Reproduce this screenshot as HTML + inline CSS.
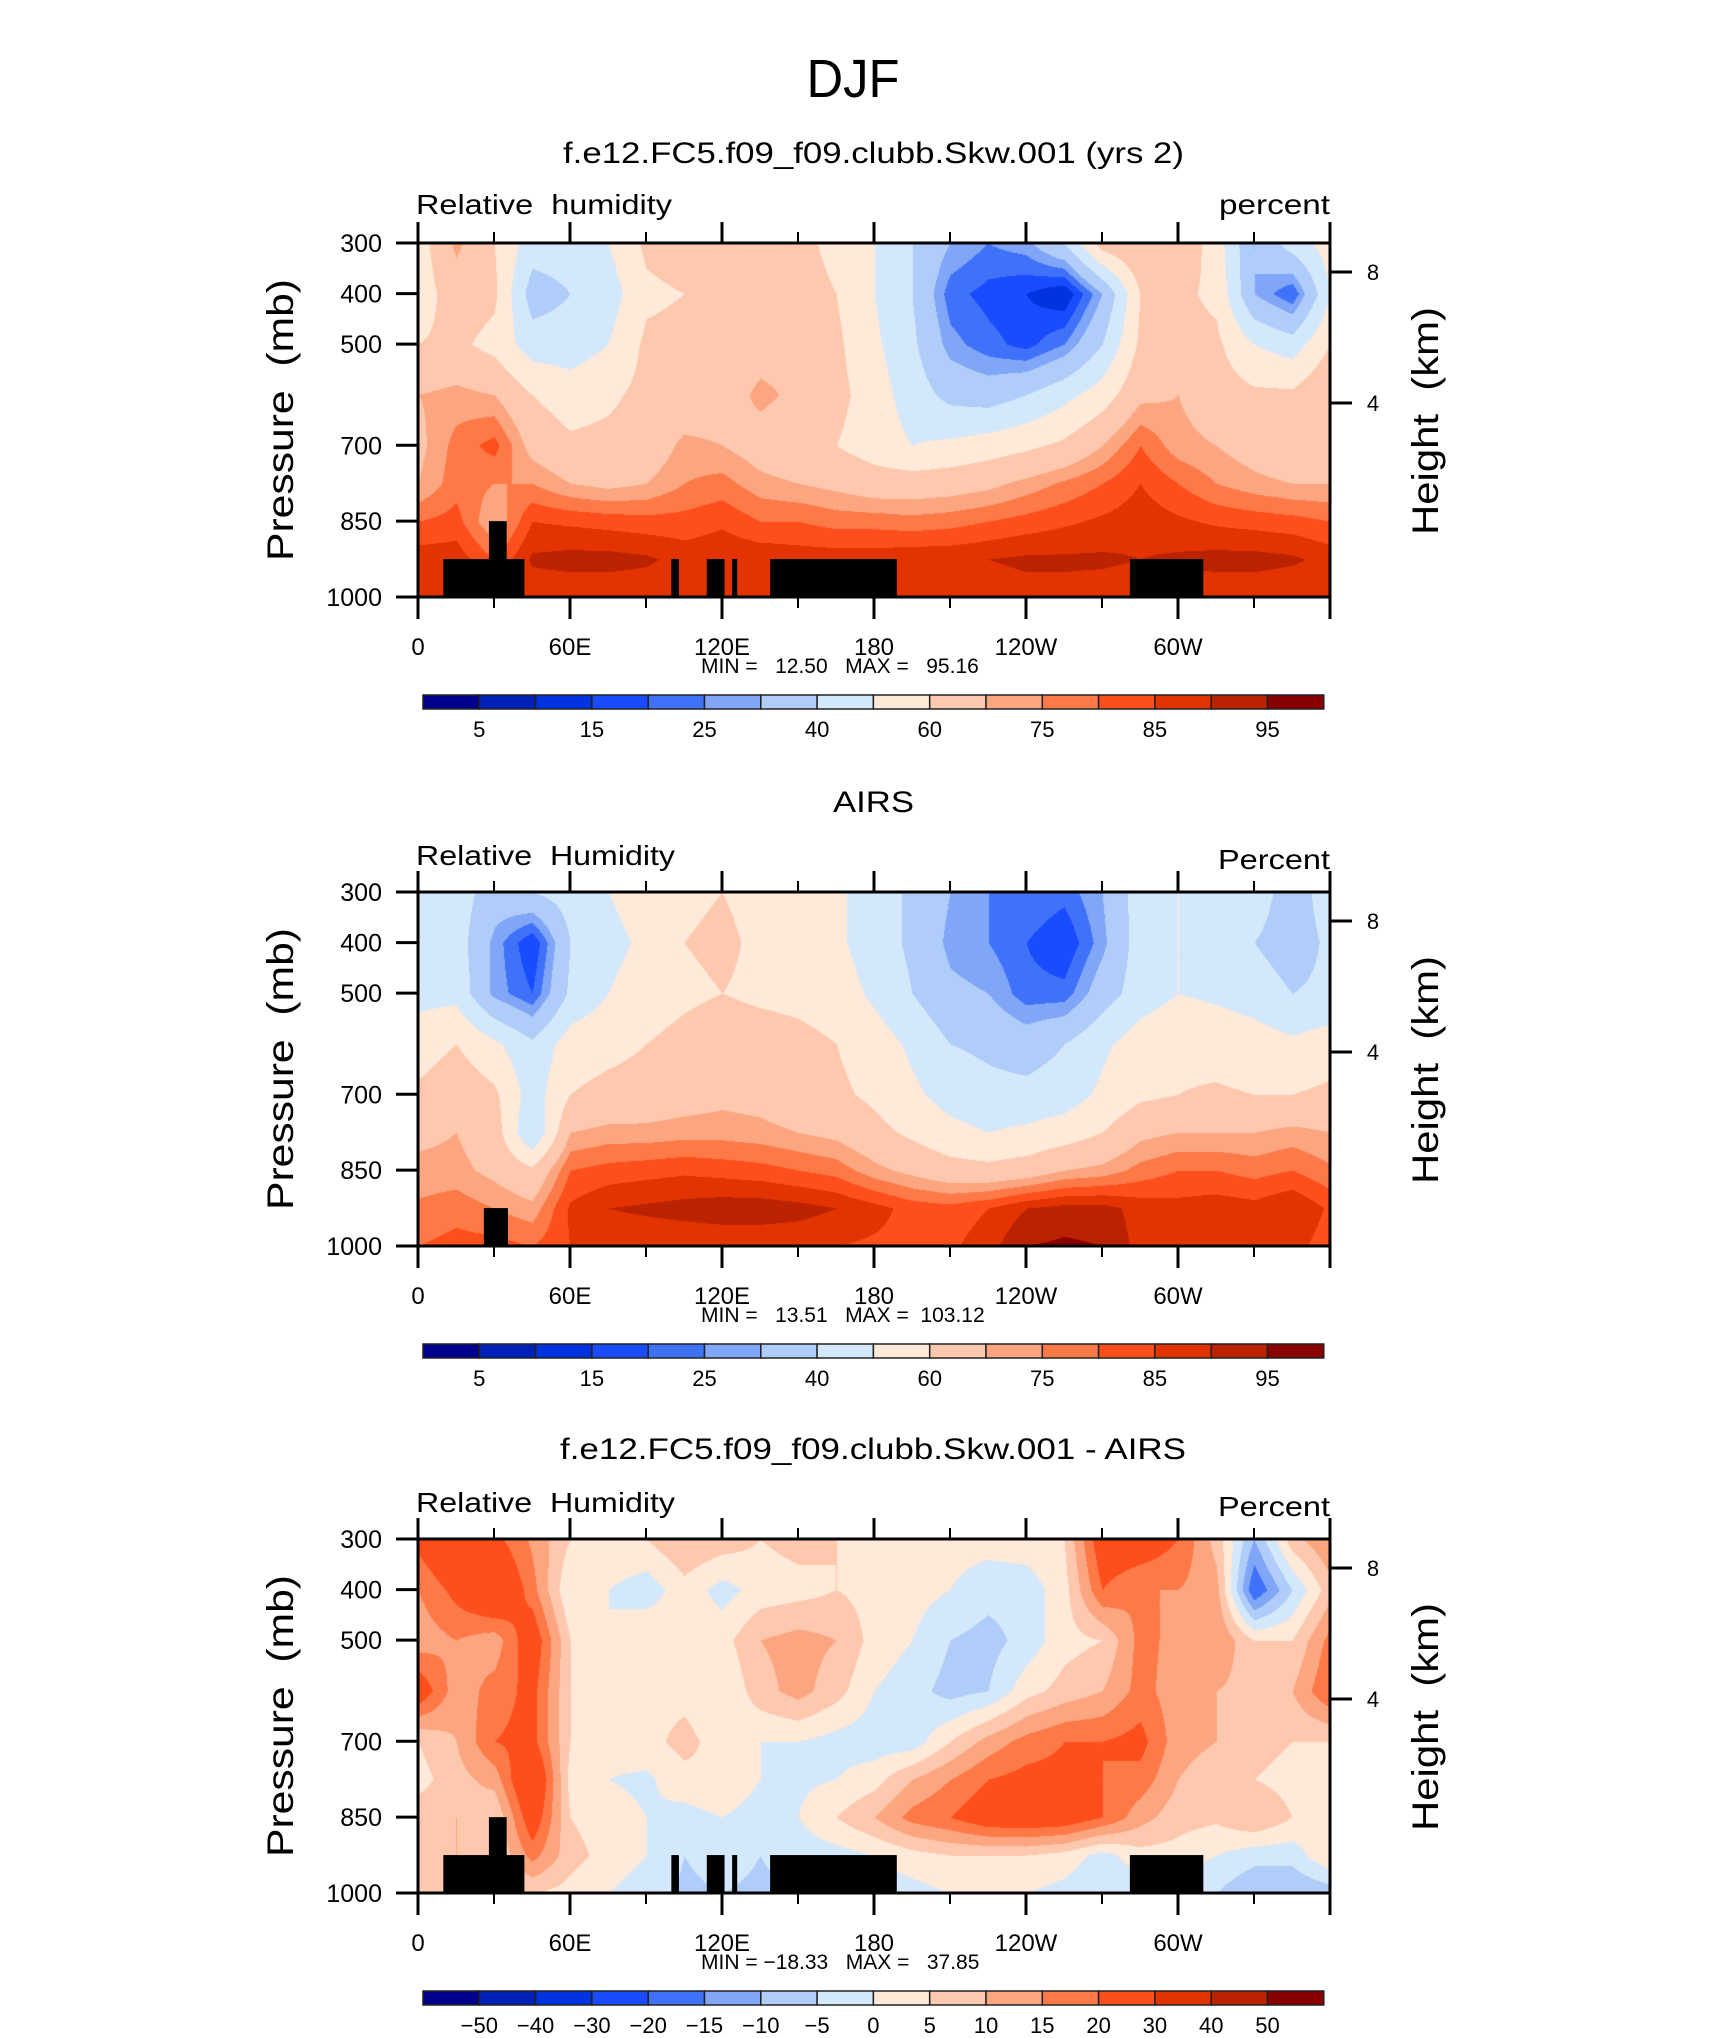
<!DOCTYPE html>
<html><head><meta charset="utf-8">
<style>
html,body{margin:0;padding:0;background:#fff;}
#root{position:relative;width:1710px;height:2038px;overflow:hidden;}
canvas{position:absolute;}
svg{position:absolute;left:0;top:0;}
text{font-family:"Liberation Sans",sans-serif;fill:#000;}
</style></head>
<body>
<div id="root">
<canvas id="c0" width="912" height="354" style="left:418px;top:243px"></canvas>
<canvas id="c1" width="912" height="354" style="left:418px;top:892px"></canvas>
<canvas id="c2" width="912" height="354" style="left:418px;top:1539px"></canvas>
<svg id="svg" width="1710" height="2038"></svg>
</div>
<script>
// ---- data ----
const lons = [0,15,30,45,60,75,90,105,120,135,150,165,180,195,210,225,240,255,270,285,300,315,330,345,360];
const pressures = [300,400,500,600,700,775,850,925,1000];
const modelRH = [
 [55,72,60,45,45,50,62,65,68,62,62,58,50,40,30,25,28,40,65,70,68,55,30,45,55],
 [55,65,62,35,40,45,58,60,62,63,63,60,50,40,22,18,15,10,30,60,62,58,30,20,50],
 [60,62,57,45,45,50,62,63,63,66,66,62,52,42,27,22,18,25,40,62,63,62,50,45,60],
 [70,72,70,60,55,58,63,63,65,72,68,63,55,45,37,35,40,47,55,68,70,65,62,62,70],
 [68,77,82,67,62,63,64,72,70,66,63,60,55,50,52,55,58,62,70,80,72,70,66,62,63],
 [70,78,75,75,70,68,70,75,77,72,70,68,65,65,66,68,72,76,80,85,80,75,72,70,70],
 [80,82,70,85,84,83,82,82,84,80,80,78,78,77,78,80,82,84,86,88,86,84,83,82,80],
 [88,88,80,91,92,92,91,88,89,89,88,88,88,89,89,90,91,91,91,90,91,92,92,91,88],
 [85,85,85,86,86,86,86,85,85,85,85,85,85,86,86,87,88,88,87,86,86,86,86,85,85]
];
const airsRH = [
 [45,45,35,40,45,50,55,58,60,57,55,52,45,38,30,25,25,22,30,45,50,45,45,35,45],
 [45,45,28,15,40,47,52,60,62,58,58,52,45,38,28,25,20,15,28,45,50,45,40,35,42],
 [47,47,28,20,42,50,55,58,60,58,57,55,48,40,32,30,22,22,35,45,50,48,45,40,42],
 [55,60,52,42,55,57,60,63,66,65,63,60,55,48,40,38,35,40,48,55,58,57,55,52,55],
 [62,67,62,45,60,63,64,66,68,67,64,62,58,52,46,43,43,45,52,58,60,61,60,60,62],
 [68,70,65,40,70,72,72,73,73,72,70,68,63,58,53,50,52,55,60,68,70,70,70,72,70],
 [72,72,68,62,80,82,83,84,83,82,80,78,72,68,64,63,65,70,72,77,80,80,78,80,76],
 [76,78,75,72,86,90,91,92,93,93,92,90,87,83,82,85,90,92,92,88,87,88,87,90,84],
 [80,82,82,80,85,86,86,86,86,86,86,85,84,83,84,88,95,96,95,88,86,86,86,87,82]
];
const diffRH = [
 [22,30,22,14,5,5,5,10,8,5,7,5,5,3,2,2,3,5,25,25,20,8,-10,8,15],
 [15,22,30,17,0,0,-3,3,-2,2,3,5,3,2,0,-3,-3,3,20,15,15,12,-20,-5,8],
 [12,15,12,25,5,0,5,3,3,10,12,10,3,0,-5,-7,-3,3,5,17,13,15,5,5,17],
 [25,12,17,22,5,3,3,3,0,8,12,7,0,-3,-7,-5,3,7,10,17,12,10,8,10,20],
 [5,10,20,22,5,2,3,7,2,0,0,-2,-3,-3,5,12,17,20,20,22,12,10,7,5,5],
 [3,8,12,30,3,0,-1,3,5,0,-1,0,3,10,15,20,22,22,20,18,10,7,5,3,3],
 [8,10,5,25,5,2,0,-2,0,-3,0,5,10,17,20,25,26,25,20,12,7,6,10,5,3],
 [10,10,5,17,7,3,0,-5,-3,-5,-3,-2,0,3,5,5,5,3,-2,3,3,0,-3,-3,5],
 [5,5,3,5,3,0,-3,-6,-5,-6,-5,-4,-3,-2,0,0,0,-2,-5,-3,-3,-5,-10,-10,-8]
];
const rhLevels = [5,10,15,20,25,30,40,50,60,70,75,80,85,90,95];
const rhLabels = ["5","15","25","40","60","75","85","95"];
const diffLevels = [-50,-40,-30,-20,-15,-10,-5,0,5,10,15,20,30,40,50];
const diffLabels = ["-50","-40","-30","-20","-15","-10","-5","0","5","10","15","20","30","40","50"];
const colors = ["#00008c","#0020b8","#0033e0","#1a4cff","#3f72f8","#80a6f8","#b0ccf8","#d4e8fb","#ffe9d8","#fdc8ad","#fca681","#fd7a48","#fe4e1b","#e33300","#bb2200","#8a0000"];
const landModel = [[10,42,925],[28,35,850],[100,103,925],[114,121,925],[124,126,925],[139,189,925],[281,310,925]];
const landAirs = [[26,35.5,925]];
const xTickVals = [0,60,120,180,240,300];
const xTickLabels = ["0","60E","120E","180","120W","60W"];
const yTickVals = [300,400,500,700,850,1000];
const hTickY = [[8,29],[4,160]];
const panels = [
 {top:243, data:modelRH, levels:rhLevels, labels:rhLabels, labelEvery:2, land:landModel,
  title:"f.e12.FC5.f09_f09.clubb.Skw.001 (yrs 2)", tx:563, tw:621, left:"Relative  humidity", lw:256, right:"percent", rw:111, ry:-39, minmax:"MIN =   12.50   MAX =   95.16"},
 {top:892, data:airsRH, levels:rhLevels, labels:rhLabels, labelEvery:2, land:landAirs,
  title:"AIRS", tx:833, tw:81, left:"Relative  Humidity", lw:259, right:"Percent", rw:112, ry:-33, minmax:"MIN =   13.51   MAX =  103.12"},
 {top:1539, data:diffRH, levels:diffLevels, labels:diffLabels, labelEvery:1, land:landModel,
  title:"f.e12.FC5.f09_f09.clubb.Skw.001 - AIRS", tx:560, tw:626, left:"Relative  Humidity", lw:259, right:"Percent", rw:112, ry:-33, minmax:"MIN = \u221218.33   MAX =   37.85"}
];
const PX=418, PW=912, PH=354;
const xScale = lon => PX + lon/360*PW;
const yScale = (top,p) => top + (p-300)/700*PH;
const NS="http://www.w3.org/2000/svg";
const svg=document.getElementById('svg');
function mk(tag,attrs,parent){const e=document.createElementNS(NS,tag);for(const k in attrs)e.setAttribute(k,attrs[k]);(parent||svg).appendChild(e);return e;}
function txt(s,attrs){const e=mk('text',attrs);e.textContent=s;return e;}

function interp(data,lon,p){
  let i=Math.min(Math.floor(lon/15),lons.length-2); let fx=(lon-lons[i])/15;
  let j=0; while(j<pressures.length-2 && p>pressures[j+1]) j++;
  let fy=(p-pressures[j])/(pressures[j+1]-pressures[j]);
  const a=data[j][i],b=data[j][i+1],c=data[j+1][i],d=data[j+1][i+1];
  return (a*(1-fx)+b*fx)*(1-fy)+(c*(1-fx)+d*fx)*fy;
}
function hex(c){return [parseInt(c.substr(1,2),16),parseInt(c.substr(3,2),16),parseInt(c.substr(5,2),16)];}
const rgb=colors.map(hex);

panels.forEach((P,k)=>{
  const cv=document.getElementById('c'+k), ctx=cv.getContext('2d');
  const img=ctx.createImageData(PW,PH);
  for(let y=0;y<PH;y++){const p=300+y/PH*700;
    for(let x=0;x<PW;x++){const lon=x/PW*360;const v=interp(P.data,lon,p);
      let ci=0; while(ci<P.levels.length && v>=P.levels[ci]) ci++;
      const c=rgb[ci]; const o=(y*PW+x)*4; img.data[o]=c[0];img.data[o+1]=c[1];img.data[o+2]=c[2];img.data[o+3]=255;}}
  ctx.putImageData(img,0,0);
  const T=P.top;
  P.land.forEach(b=>{
    const r=mk('rect',{x:xScale(b[0]),y:yScale(T,b[2]),width:xScale(b[1])-xScale(b[0]),height:yScale(T,1000)-yScale(T,b[2]),fill:'#000'});
    
    
  });
  const fr=mk('rect',{x:PX,y:T,width:PW,height:PH,fill:'none',stroke:'#000','stroke-width':3});
  
  
  for(let lon=0;lon<=360;lon+=30){const x=xScale(lon);const major=lon%60===0;
    mk('line',{x1:x,x2:x,y1:T+PH,y2:T+PH+(major?22:11),stroke:'#000','stroke-width':major?3:2});
    mk('line',{x1:x,x2:x,y1:T,y2:T-(major?21:11),stroke:'#000','stroke-width':major?3:2});}
  xTickVals.forEach((v,i)=>{const t=txt(xTickLabels[i],{x:xScale(v),y:T+PH+58,'font-size':24,'text-anchor':'middle'});
    
    });
  yTickVals.forEach(v=>{const y=yScale(T,v);
    mk('line',{x1:PX-22,x2:PX,y1:y,y2:y,stroke:'#000','stroke-width':3});
    const t=txt(String(v),{x:382,y:y+9,'font-size':25,'text-anchor':'end'});
    
    });
  hTickY.forEach(h=>{const y=T+h[1];
    mk('line',{x1:PX+PW,x2:PX+PW+22,y1:y,y2:y,stroke:'#000','stroke-width':3});
    const t=txt(String(h[0]),{x:1373,y:y+8,'font-size':22,'text-anchor':'middle'});
    
    });
  let t=txt(P.title,{x:P.tx,y:T-80,'font-size':30,textLength:P.tw,lengthAdjust:'spacingAndGlyphs'});
  
  
  t=txt(P.left,{x:416,y:T-(k==0?29:27),'font-size':28,textLength:P.lw,lengthAdjust:'spacingAndGlyphs'});
  t.style.whiteSpace='pre';
  
  
  t=txt(P.right,{x:1330,y:T+P.ry+10,'font-size':28,'text-anchor':'end',textLength:P.rw,lengthAdjust:'spacingAndGlyphs'});
  
  
  t=txt('Pressure  (mb)',{x:0,y:0,'font-size':37,'text-anchor':'middle',textLength:282,lengthAdjust:'spacingAndGlyphs',transform:`translate(293,${T+177}) rotate(-90)`});
  t.style.whiteSpace='pre';
  
  
  t=txt('Height  (km)',{x:0,y:0,'font-size':37,'text-anchor':'middle',textLength:228,lengthAdjust:'spacingAndGlyphs',transform:`translate(1438,${T+178}) rotate(-90)`});
  t.style.whiteSpace='pre';
  
  
  t=txt(P.minmax,{x:701,y:T+PH+76,'font-size':21});
  t.style.whiteSpace='pre';
  
  
  const cbx=423, cbw=56.3, cby=T+PH+98;
  colors.forEach((c,i)=>{const r=mk('rect',{x:cbx+i*cbw,y:cby,width:cbw,height:14,fill:c,stroke:'#222','stroke-width':1.5});
    
    });
  P.labels.forEach((l,i)=>{const bi=(i*P.labelEvery)+1;
    const s=l.replace('-','\u2212');
    const e=txt(s,{x:cbx+bi*cbw,y:cby+42,'font-size':22,'text-anchor':'middle'});
    
    });
});
const dj=txt('DJF',{x:853,y:97,'font-size':54,'text-anchor':'middle',textLength:93,lengthAdjust:'spacingAndGlyphs'});


</script>
</body></html>
